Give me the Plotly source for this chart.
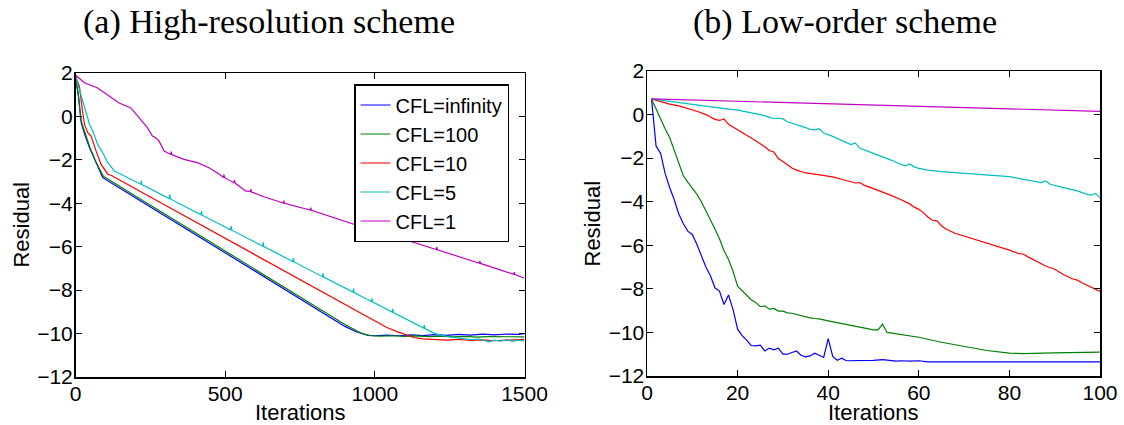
import plotly.graph_objects as go

# ---------------- (a) High-resolution scheme ----------------
a_inf_x = [0, 10, 19, 30, 47, 70, 91, 200, 400, 600, 800, 900, 940, 960, 978, 1000, 1040, 1080,
           1120, 1160, 1200, 1240, 1280, 1320, 1360, 1400, 1440, 1480, 1500]
a_inf_y = [1.85, 0.9, -0.29, -0.8, -1.44, -2.2, -2.82, -3.74, -5.44, -7.13, -8.83, -9.67, -9.93,
           -10.02, -10.08, -10.1, -10.07, -10.1, -10.06, -10.09, -10.05, -10.08, -10.04, -10.07,
           -10.03, -10.06, -10.02, -10.04, -10.0]

a_100_x = [0, 10, 19, 30, 47, 70, 93, 200, 400, 600, 800, 900, 950, 970, 990, 1020, 1060, 1100,
           1140, 1180, 1220, 1260, 1300, 1340, 1380, 1420, 1460, 1500]
a_100_y = [1.85, 0.95, -0.22, -0.72, -1.38, -2.15, -2.76, -3.66, -5.36, -7.05, -8.75, -9.58, -9.95,
           -10.05, -10.1, -10.12, -10.1, -10.13, -10.11, -10.14, -10.12, -10.15, -10.13, -10.16,
           -10.14, -10.15, -10.13, -10.15]

a_10_x = [0, 13, 22, 30, 41, 52, 69, 85, 108, 120, 300, 500, 700, 900, 994, 1040, 1072, 1100, 1130,
          1160, 1200, 1240, 1280, 1320, 1360, 1400, 1440, 1480, 1500]
a_10_y = [1.85, 1.39, 0.4, -0.37, -0.75, -0.9, -1.6, -2.2, -2.66, -2.72, -4.09, -5.62, -7.15, -8.68,
          -9.39, -9.72, -9.9, -10.05, -10.18, -10.24, -10.27, -10.3, -10.27, -10.32, -10.29, -10.33,
          -10.3, -10.28, -10.27]

a_5_x = [0, 24, 47, 58, 74, 91, 108, 130, 152, 218, 220, 222, 313, 315, 317, 419, 421, 423, 518, 520,
         522, 625, 627, 629, 726, 728, 730, 825, 827, 829, 927, 929, 931, 988, 990, 992, 1058, 1060,
         1062, 1163, 1165, 1167, 1200, 1230, 1260, 1290, 1320, 1350, 1380, 1400, 1420, 1440, 1460,
         1480, 1500]
a_5_y = [1.85, 0.7, -0.37, -0.68, -1.29, -1.67, -2.13, -2.51, -2.66, -3.12, -2.95, -3.14, -3.78, -3.6,
         -3.8, -4.53, -4.36, -4.55, -5.22, -5.05, -5.24, -5.97, -5.8, -5.99, -6.68, -6.52, -6.7, -7.38,
         -7.22, -7.4, -8.09, -7.93, -8.11, -8.52, -8.38, -8.54, -9.01, -8.86, -9.03, -9.75, -9.6,
         -9.77, -10.0, -10.1, -10.18, -10.22, -10.28, -10.25, -10.38, -10.3, -10.35, -10.28, -10.36,
         -10.3, -10.35]

a_1_x = [0, 30, 74, 108, 146, 185, 213, 240, 257, 270, 279, 296, 318, 320, 322, 362, 407, 446, 473,
         494, 496, 498, 529, 531, 533, 568, 584, 586, 588, 629, 678, 694, 696, 698, 784, 786, 788,
         956, 958, 960, 1083, 1085, 1087, 1205, 1207, 1209, 1349, 1351, 1353, 1464, 1466, 1468, 1500]
a_1_y = [1.9, 1.55, 1.31, 1.0, 0.62, 0.39, -0.06, -0.52, -0.9, -1.0, -1.13, -1.59, -1.75, -1.62,
         -1.76, -1.98, -2.13, -2.36, -2.59, -2.8, -2.68, -2.82, -3.05, -2.93, -3.07, -3.43, -3.46,
         -3.35, -3.48, -3.7, -3.92, -3.99, -3.88, -4.0, -4.31, -4.2, -4.32, -5.08, -4.97, -5.09, -5.6,
         -5.5, -5.61, -6.13, -6.02, -6.14, -6.76, -6.65, -6.77, -7.27, -7.17, -7.28, -7.45]

# ---------------- (b) Low-order scheme ----------------
b_inf_x = [1, 2, 3, 4, 5, 6, 7, 8, 9, 10, 11, 12, 13, 14, 15, 16, 17, 18, 19, 20, 21, 22, 23, 24, 25,
           26, 27, 28, 29, 30, 31, 32, 33, 34, 35, 36, 37, 38, 39, 40, 41, 42, 43, 44, 45, 50, 52, 54,
           55, 56, 58, 60, 62, 65, 70, 72, 75, 80, 85, 90, 95, 100]
b_inf_y = [0.72, -1.45, -1.78, -2.7, -3.35, -3.9, -4.55, -5.0, -5.35, -5.5, -5.95, -6.5, -7.0, -7.4,
           -7.95, -8.1, -8.72, -8.28, -8.95, -9.85, -10.15, -10.35, -10.6, -10.62, -10.58, -10.85,
           -10.72, -10.8, -10.72, -11.0, -11.0, -10.92, -10.85, -11.05, -11.12, -11.08, -10.95,
           -11.05, -11.15, -10.28, -11.1, -11.28, -11.18, -11.3, -11.3, -11.28, -11.25, -11.3,
           -11.32, -11.3, -11.32, -11.3, -11.35, -11.35, -11.35, -11.33, -11.35, -11.35, -11.33,
           -11.32, -11.35, -11.35]

b_100_x = [1, 2, 3, 4, 5, 6, 7, 8, 9, 10, 11, 12, 13, 14, 15, 16, 17, 18, 19, 20, 21, 22, 23, 24, 25,
           26, 27, 28, 29, 30, 31, 32, 33, 34, 35, 36, 37, 38, 40, 42, 44, 46, 48, 50, 51, 52, 53, 55,
           60, 65, 70, 75, 80, 83, 90, 100]
b_100_y = [0.72, 0.25, -0.25, -0.65, -1.05, -1.65, -2.25, -2.8, -3.1, -3.35, -3.65, -4.0, -4.4, -4.78,
           -5.25, -5.7, -6.25, -6.65, -7.2, -7.88, -8.1, -8.3, -8.5, -8.62, -8.82, -8.78, -8.93, -8.9,
           -9.02, -9.02, -9.1, -9.12, -9.18, -9.22, -9.28, -9.33, -9.36, -9.38, -9.47, -9.55, -9.64,
           -9.72, -9.8, -9.88, -9.88, -9.62, -10.0, -10.06, -10.22, -10.45, -10.65, -10.83, -10.95,
           -10.97, -10.94, -10.9]

b_10_x = [1, 3, 5, 7, 9, 11, 13, 15, 16, 17, 18, 19, 20, 22, 24, 26, 27, 28, 29, 30, 31, 32, 33, 34,
          35, 37, 39, 41, 43, 45, 46, 47, 48, 50, 52, 54, 56, 57, 58, 59, 60, 61, 62, 63, 64, 65, 66,
          68, 70, 72, 74, 76, 78, 80, 82, 83, 84, 86, 88, 90, 92, 94, 95, 96, 98, 100]
b_10_y = [0.72, 0.6, 0.48, 0.4, 0.28, 0.15, 0.0, -0.22, -0.27, -0.2, -0.45, -0.57, -0.7, -0.94, -1.2,
          -1.48, -1.65, -1.72, -2.02, -2.15, -2.3, -2.45, -2.55, -2.63, -2.68, -2.73, -2.8, -2.86,
          -2.97, -3.1, -3.14, -3.12, -3.25, -3.4, -3.55, -3.72, -3.9, -4.0, -4.1, -4.25, -4.35, -4.5,
          -4.7, -4.85, -4.88, -5.1, -5.25, -5.45, -5.58, -5.7, -5.82, -5.95, -6.1, -6.22, -6.38, -6.4,
          -6.52, -6.72, -6.95, -7.1, -7.35, -7.55, -7.6, -7.72, -7.92, -8.12]

b_5_x = [1, 5, 10, 15, 20, 23, 25, 27, 28, 29, 30, 31, 33, 35, 36, 37, 38, 39, 41, 43, 45, 46, 47, 49,
         52, 54, 56, 57, 58, 59, 60, 62, 65, 70, 75, 80, 82, 85, 87, 88, 89, 92, 95, 97, 98, 99, 100]
b_5_y = [0.72, 0.6, 0.45, 0.33, 0.2, 0.1, 0.0, -0.12, -0.18, -0.17, -0.2, -0.33, -0.45, -0.6, -0.68,
         -0.7, -0.65, -0.85, -1.0, -1.18, -1.38, -1.3, -1.55, -1.7, -1.93, -2.1, -2.28, -2.35, -2.27,
         -2.4, -2.47, -2.55, -2.62, -2.7, -2.78, -2.85, -2.93, -3.03, -3.12, -3.05, -3.2, -3.35, -3.5,
         -3.65, -3.7, -3.62, -3.82]

b_1_x = [1, 50, 100]
b_1_y = [0.72, 0.45, 0.15]

series_names = ["CFL=infinity", "CFL=100", "CFL=10", "CFL=5", "CFL=1"]
series_colors = ["#0000FF", "#008000", "#FF0000", "#00BFBF", "#BF00BF"]

x1_ticks = [0, 500, 1000, 1500]
x2_ticks = [0, 20, 40, 60, 80, 100]
y_ticks = [2, 0, -2, -4, -6, -8, -10, -12]

left = [(a_inf_x, a_inf_y), (a_100_x, a_100_y), (a_10_x, a_10_y), (a_5_x, a_5_y), (a_1_x, a_1_y)]
right = [(b_inf_x, b_inf_y), (b_100_x, b_100_y), (b_10_x, b_10_y), (b_5_x, b_5_y), (b_1_x, b_1_y)]

fig = go.Figure()
for (x, y), name, c in zip(left, series_names, series_colors):
    fig.add_trace(go.Scatter(x=x, y=y, mode="lines", name=name, hoverinfo="skip",
                             line=dict(color=c, width=1.2), xaxis="x", yaxis="y"))
for (x, y), name, c in zip(right, series_names, series_colors):
    fig.add_trace(go.Scatter(x=x, y=y, mode="lines", name=name, showlegend=False, hoverinfo="skip",
                             line=dict(color=c, width=1.2), xaxis="x2", yaxis="y2"))

# The page body margin is removed (see post_script below), so the figure fills the window.
W, H = 1124, 425


def px(x):  # window x pixel -> paper fraction
    return x / W


def py(y):  # window y pixel -> paper fraction
    return 1 - y / H


sans = "Liberation Sans, Arial, sans-serif"
tickfont = dict(family=sans, size=21, color="black")
common = dict(showline=True, linecolor="black", linewidth=1.5, mirror="ticks", ticks="inside",
              ticklen=6, tickwidth=1, tickcolor="black", showgrid=False, zeroline=False,
              tickfont=tickfont, tickmode="array", automargin=False, ticklabelstandoff=-3)

fig.update_layout(
    template="none",
    width=W, height=H, autosize=False,
    margin=dict(l=0, r=0, t=0, b=0, pad=0),
    paper_bgcolor="white", plot_bgcolor="white",
    hovermode=False,
    xaxis=dict(domain=[px(75.5), px(524.5)], range=[0, 1500], tickvals=x1_ticks, anchor="y", **common),
    yaxis=dict(domain=[py(377), py(73)], range=[-12, 2], tickvals=y_ticks, anchor="x", **common),
    xaxis2=dict(domain=[px(647), px(1100)], range=[0, 100], tickvals=x2_ticks, anchor="y2", **common),
    yaxis2=dict(domain=[py(376), py(71)], range=[-12, 2], tickvals=y_ticks, anchor="x2", **common),
    legend=dict(x=px(509), xanchor="right", y=py(84), yanchor="top",
                bordercolor="black", borderwidth=1.5, bgcolor="white",
                font=dict(family=sans, size=20, color="black"),
                tracegroupgap=0, itemwidth=30),
    showlegend=True,
)

label_font = dict(family=sans, size=22, color="black")
title_font = dict(family="Liberation Serif, Times New Roman, serif", size=34, color="black")
fig.add_annotation(text="(a) High-resolution scheme", xref="paper", yref="paper",
                   x=px(269), y=py(22), showarrow=False, font=title_font,
                   xanchor="center", yanchor="middle")
fig.add_annotation(text="(b) Low-order scheme", xref="paper", yref="paper",
                   x=px(845), y=py(22), showarrow=False, font=title_font,
                   xanchor="center", yanchor="middle")
fig.add_annotation(text="Iterations", xref="x domain", yref="paper", x=0.5, y=py(412.5),
                   showarrow=False, font=label_font, xanchor="center", yanchor="middle")
fig.add_annotation(text="Iterations", xref="x2 domain", yref="paper", x=0.5, y=py(412.5),
                   showarrow=False, font=label_font, xanchor="center", yanchor="middle")
fig.add_annotation(text="Residual", xref="paper", yref="y domain", x=px(20.6), y=0.5,
                   textangle=-90, showarrow=False, font=label_font, xanchor="center", yanchor="middle")
fig.add_annotation(text="Residual", xref="paper", yref="y2 domain", x=px(592), y=0.5,
                   textangle=-90, showarrow=False, font=label_font, xanchor="center", yanchor="middle")

fig.write_html("out.html",
               config={"displayModeBar": False, "staticPlot": True},
               post_script="document.body.style.margin='0';document.body.style.overflow='hidden';")
